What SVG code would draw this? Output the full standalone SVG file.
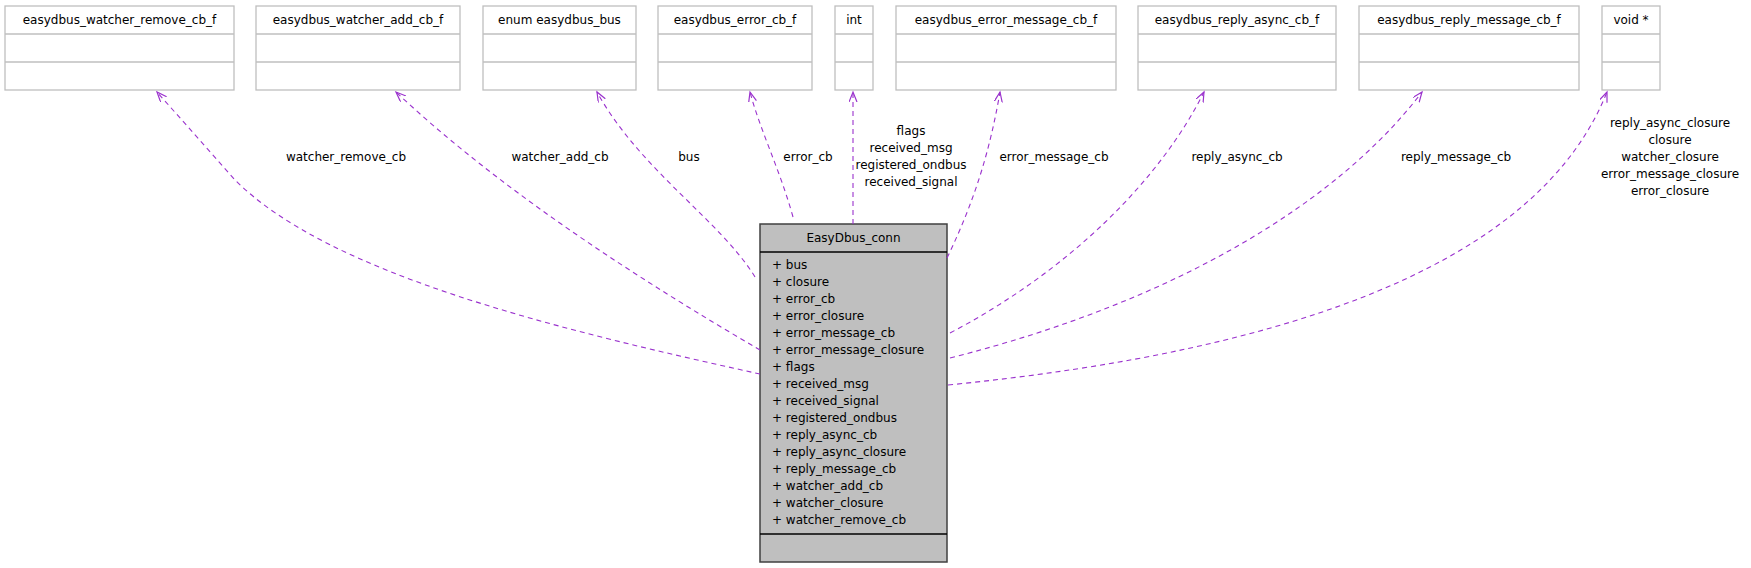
<svg xmlns="http://www.w3.org/2000/svg" width="1751" height="568" viewBox="0 0 1751 568">
<style>
text{font-family:"DejaVu Sans",sans-serif;font-size:12px;fill:#000}
.c{text-anchor:middle}
.box{fill:#fff;stroke:#bfbfbf;stroke-width:1.3}
.e{fill:none;stroke:#9a32cd;stroke-width:1.1;stroke-dasharray:5,4;marker-end:url(#a)}
</style>
<defs><marker id="a" markerWidth="12" markerHeight="10" refX="10" refY="4" orient="auto" markerUnits="userSpaceOnUse"><path d="M0,0 L10,4 L0,8" fill="none" stroke="#9a32cd" stroke-width="1.2"/></marker></defs>
<rect width="1751" height="568" fill="#fff"/>
<g id="n1"><rect class="box" x="5" y="6" width="229" height="84"/><line class="box" x1="5" y1="34" x2="234" y2="34"/><line class="box" x1="5" y1="62" x2="234" y2="62"/><text class="c" x="119.5" y="24">easydbus_watcher_remove_cb_f</text></g>
<g id="n2"><rect class="box" x="256" y="6" width="204" height="84"/><line class="box" x1="256" y1="34" x2="460" y2="34"/><line class="box" x1="256" y1="62" x2="460" y2="62"/><text class="c" x="358" y="24">easydbus_watcher_add_cb_f</text></g>
<g id="n3"><rect class="box" x="483" y="6" width="153" height="84"/><line class="box" x1="483" y1="34" x2="636" y2="34"/><line class="box" x1="483" y1="62" x2="636" y2="62"/><text class="c" x="559.5" y="24">enum easydbus_bus</text></g>
<g id="n4"><rect class="box" x="658" y="6" width="154" height="84"/><line class="box" x1="658" y1="34" x2="812" y2="34"/><line class="box" x1="658" y1="62" x2="812" y2="62"/><text class="c" x="735" y="24">easydbus_error_cb_f</text></g>
<g id="n5"><rect class="box" x="835" y="6" width="38" height="84"/><line class="box" x1="835" y1="34" x2="873" y2="34"/><line class="box" x1="835" y1="62" x2="873" y2="62"/><text class="c" x="854" y="24">int</text></g>
<g id="n6"><rect class="box" x="896" y="6" width="220" height="84"/><line class="box" x1="896" y1="34" x2="1116" y2="34"/><line class="box" x1="896" y1="62" x2="1116" y2="62"/><text class="c" x="1006" y="24">easydbus_error_message_cb_f</text></g>
<g id="n7"><rect class="box" x="1138" y="6" width="198" height="84"/><line class="box" x1="1138" y1="34" x2="1336" y2="34"/><line class="box" x1="1138" y1="62" x2="1336" y2="62"/><text class="c" x="1237" y="24">easydbus_reply_async_cb_f</text></g>
<g id="n8"><rect class="box" x="1359" y="6" width="220" height="84"/><line class="box" x1="1359" y1="34" x2="1579" y2="34"/><line class="box" x1="1359" y1="62" x2="1579" y2="62"/><text class="c" x="1469" y="24">easydbus_reply_message_cb_f</text></g>
<g id="n9"><rect class="box" x="1602" y="6" width="58" height="84"/><line class="box" x1="1602" y1="34" x2="1660" y2="34"/><line class="box" x1="1602" y1="62" x2="1660" y2="62"/><text class="c" x="1631" y="24">void *</text></g>
<g id="main"><rect x="760" y="224" width="187" height="338" fill="#bfbfbf" stroke="#404040" stroke-width="1.5"/><line x1="760" y1="252" x2="947" y2="252" stroke="#000" stroke-width="1.5"/><line x1="760" y1="534" x2="947" y2="534" stroke="#000" stroke-width="1.5"/>
<text class="c" x="853.5" y="242">EasyDbus_conn</text>
<text x="772" y="269">+ bus</text><text x="772" y="286">+ closure</text><text x="772" y="303">+ error_cb</text><text x="772" y="320">+ error_closure</text><text x="772" y="337">+ error_message_cb</text><text x="772" y="354">+ error_message_closure</text><text x="772" y="371">+ flags</text><text x="772" y="388">+ received_msg</text><text x="772" y="405">+ received_signal</text><text x="772" y="422">+ registered_ondbus</text><text x="772" y="439">+ reply_async_cb</text><text x="772" y="456">+ reply_async_closure</text><text x="772" y="473">+ reply_message_cb</text><text x="772" y="490">+ watcher_add_cb</text><text x="772" y="507">+ watcher_closure</text><text x="772" y="524">+ watcher_remove_cb</text></g>
<g id="edges">
<path class="e" d="M760,374 C560,330 330,275 235,180 L157,92"/>
<path class="e" d="M760,350 C640,280 500,190 396,92"/>
<path class="e" d="M755,277 C720,220 640,170 597,92"/>
<path class="e" d="M793,217 C780,170 760,130 750,92"/>
<path class="e" d="M853,224 L853,92"/>
<path class="e" d="M947,258 C975,200 990,150 1000,92"/>
<path class="e" d="M950,333 C1070,270 1160,180 1204,92"/>
<path class="e" d="M950,358 C1180,300 1340,200 1422,92"/>
<path class="e" d="M948,385 C1300,350 1540,260 1607,92"/>
<text class="c" x="346" y="161">watcher_remove_cb</text>
<text class="c" x="560" y="161">watcher_add_cb</text>
<text class="c" x="689" y="161">bus</text>
<text class="c" x="808" y="161">error_cb</text>
<text class="c" x="911" y="135">flags</text><text class="c" x="911" y="152">received_msg</text><text class="c" x="911" y="169">registered_ondbus</text><text class="c" x="911" y="186">received_signal</text>
<text class="c" x="1054" y="161">error_message_cb</text>
<text class="c" x="1237" y="161">reply_async_cb</text>
<text class="c" x="1456" y="161">reply_message_cb</text>
<text class="c" x="1670" y="127">reply_async_closure</text><text class="c" x="1670" y="144">closure</text><text class="c" x="1670" y="161">watcher_closure</text><text class="c" x="1670" y="178">error_message_closure</text><text class="c" x="1670" y="195">error_closure</text>
</g>
</svg>
